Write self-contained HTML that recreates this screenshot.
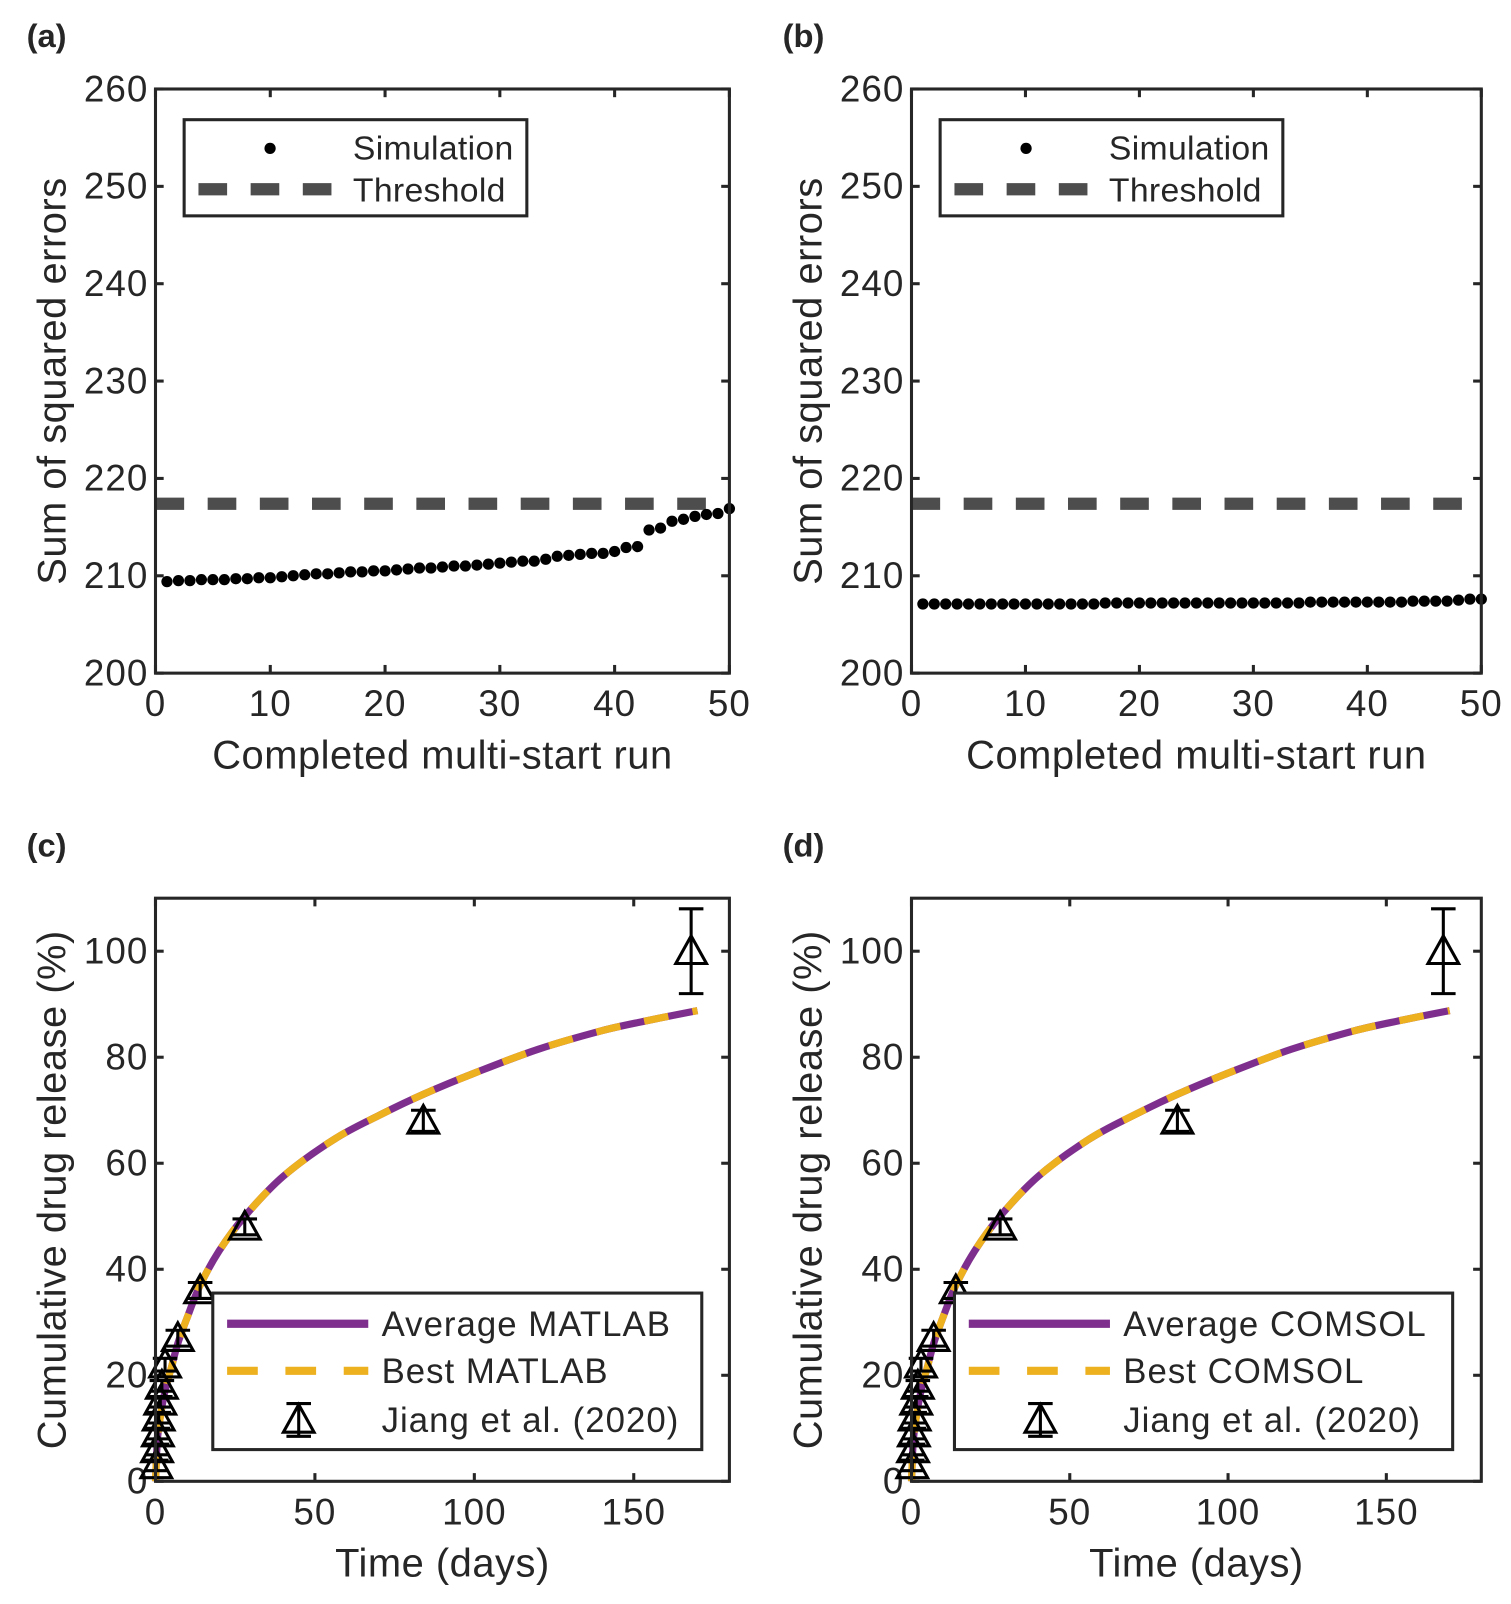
<!DOCTYPE html>
<html><head><meta charset="utf-8"><style>
body{margin:0;background:#fff}
svg text{font-family:"Liberation Sans",Arial,sans-serif;fill:#262626}
</style></head><body>
<svg width="1511" height="1599" viewBox="0 0 1511 1599" xmlns="http://www.w3.org/2000/svg"><g id="s" transform="scale(1.023)"></g></svg>
<script>
const runsA=[209.4,209.5,209.5,209.6,209.6,209.6,209.7,209.7,209.8,209.8,209.9,210.0,210.1,210.2,210.2,210.3,210.4,210.4,210.5,210.5,210.6,210.7,210.8,210.8,210.9,211.0,211.0,211.1,211.2,211.3,211.4,211.5,211.5,211.7,212.0,212.1,212.2,212.3,212.3,212.5,212.9,213.0,214.7,214.9,215.6,215.8,216.1,216.3,216.4,216.9];
const runsB=[207.1,207.1,207.1,207.1,207.1,207.1,207.1,207.1,207.1,207.1,207.1,207.1,207.1,207.1,207.1,207.1,207.2,207.2,207.2,207.2,207.2,207.2,207.2,207.2,207.2,207.2,207.2,207.2,207.2,207.2,207.2,207.2,207.2,207.2,207.3,207.3,207.3,207.3,207.3,207.3,207.3,207.3,207.3,207.4,207.4,207.4,207.4,207.5,207.6,207.6];
const threshold=217.4;
const curveT=[0,0.5,1,2,3,4,5,7,10,14,20,28,40,56,70,84,100,120,140,155,170];
const curveY=[0,7,10,14,17,19.5,21.5,26,31,37,43.5,50,57.5,64.5,69,73,77,81.5,85,87,88.8];
const expT=[0.25,0.5,0.75,1,1.5,2,3,7,14,28,84,168];
const expY=[3,6,9,12,15,18,22,27,36,48,68,100];
const expErr=[1,1,1,1,1,1,1.2,1.5,1.5,1.5,2,8];
const S=document.getElementById('s');
const NS='http://www.w3.org/2000/svg';
function el(t,a,p){const e=document.createElementNS(NS,t);for(const k in a)e.setAttribute(k,a[k]);(p||S).appendChild(e);return e;}
function txt(x,y,s,size,anchor,p,rot,ls){const e=el('text',{x:x,y:y,'font-size':size,'text-anchor':anchor||'middle'},p);if(rot)e.setAttribute('transform',rot);if(ls)e.setAttribute('letter-spacing',ls);e.textContent=s;return e;}
function smooth(pts){let d='M'+pts[0][0].toFixed(1)+' '+pts[0][1].toFixed(1);
 for(let i=0;i<pts.length-1;i++){const p0=pts[i-1]||pts[i],p1=pts[i],p2=pts[i+1],p3=pts[i+2]||p2;
  const c1=[p1[0]+(p2[0]-p0[0])/6,p1[1]+(p2[1]-p0[1])/6],c2=[p2[0]-(p3[0]-p1[0])/6,p2[1]-(p3[1]-p1[1])/6];
  d+=`C${c1[0].toFixed(1)} ${c1[1].toFixed(1)} ${c2[0].toFixed(1)} ${c2[1].toFixed(1)} ${p2[0].toFixed(1)} ${p2[1].toFixed(1)}`;}
 return d;}
function panel(o){
 const g=el('g',{});
 const X=v=>o.x0+(v-o.xmin)/(o.xmax-o.xmin)*(o.x1-o.x0);
 const Y=v=>o.y1-(v-o.ymin)/(o.ymax-o.ymin)*(o.y1-o.y0);
 o.xt.forEach(v=>{const x=X(v);el('line',{x1:x,x2:x,y1:o.y1,y2:o.y1-8,stroke:'#262626','stroke-width':3},g);el('line',{x1:x,x2:x,y1:o.y0,y2:o.y0+8,stroke:'#262626','stroke-width':3},g);
  const t=txt(x,o.y1+42,String(v),36,'middle',g,null,1);});
 o.yt.forEach(v=>{const y=Y(v);el('line',{x1:o.x0,x2:o.x0+8,y1:y,y2:y,stroke:'#262626','stroke-width':3},g);el('line',{x1:o.x1,x2:o.x1-8,y1:y,y2:y,stroke:'#262626','stroke-width':3},g);
  const t=txt(o.x0-7,y+12,String(v),36,'end',g,null,1);});
 const xl=txt((o.x0+o.x1)/2,o.y1+93,o.xlabel,39,'middle',g,null,0.5);
 const yx=o.x0-88,yy=(o.y0+o.y1)/2;
 const yl=txt(yx,yy,o.ylabel,39,'middle',g,`rotate(-90 ${yx} ${yy})`,0.5);
 const pl=txt(o.x0-126,o.y0-41,o.letter,32,'start',g);pl.setAttribute('font-weight','bold');
 o.draw(g,X,Y);
 el('rect',{x:o.x0,y:o.y0,width:o.x1-o.x0,height:o.y1-o.y0,fill:'none',stroke:'#262626','stroke-width':3},g);
 o.legend(g);
}
function tri(g,x,y){const p=el('path',{d:`M${x} ${y-15}L${x+15} ${y+12}L${x-15} ${y+12}Z`,fill:'none',stroke:'#000','stroke-width':3},g);}
function errbar(g,x,ya,yb){el('path',{d:`M${x} ${ya}V${yb}M${x-12} ${ya}H${x+12}M${x-12} ${yb}H${x+12}`,stroke:'#000','stroke-width':3,fill:'none'},g);}
function topPanel(name,letter,x0,x1,data){
 panel({name:name,letter:letter,x0:x0,x1:x1,y0:87,y1:658,xmin:0,xmax:50,ymin:200,ymax:260,xt:[0,10,20,30,40,50],yt:[200,210,220,230,240,250,260],
 xlabel:'Completed multi-start run',ylabel:'Sum of squared errors',
 draw:(g,X,Y)=>{const th=el('line',{x1:X(0),x2:X(50),y1:Y(threshold),y2:Y(threshold),stroke:'#4d4d4d','stroke-width':12,'stroke-dasharray':'28 23'},g);
  data.forEach((v,i)=>{const c=el('circle',{cx:X(i+1),cy:Y(v),r:5.5,fill:'#000'},g);});},
 legend:g=>{const lg=el('g',{},g);
  el('rect',{x:x0+28,y:117,width:335,height:94,fill:'#fff',stroke:'#262626','stroke-width':3},lg);
  el('circle',{cx:x0+112,cy:145,r:5.5,fill:'#000'},lg);
  el('line',{x1:x0+42,x2:x0+182,y1:185,y2:185,stroke:'#4d4d4d','stroke-width':12,'stroke-dasharray':'28 23'},lg);
  txt(x0+193,156,'Simulation',33,'start',lg,null,0.3);txt(x0+193,197,'Threshold',33,'start',lg,null,0.3);}
 });
}
topPanel('panel-a-sse','(a)',152,713,runsA);
topPanel('panel-b-sse','(b)',891,1448,runsB);
function botPanel(name,letter,x0,x1,tool,lx,lw){
 panel({name:name,letter:letter,x0:x0,x1:x1,y0:878,y1:1448,xmin:0,xmax:180,ymin:0,ymax:110,xt:[0,50,100,150],yt:[0,20,40,60,80,100],
 xlabel:'Time (days)',ylabel:'Cumulative drug release (%)',
 draw:(g,X,Y)=>{const d=smooth(curveT.map((t,i)=>[X(t),Y(curveY[i])]));
  const a=el('path',{d:d,fill:'none',stroke:'#7E2F8E','stroke-width':7,'stroke-linejoin':'round'},g);
  const b=el('path',{d:d,fill:'none',stroke:'#EDB120','stroke-width':7,'stroke-dasharray':'24 24'},g);
  expT.forEach((t,i)=>{errbar(g,X(t),Y(expY[i]+expErr[i]),Y(expY[i]-expErr[i]));tri(g,X(t),Y(expY[i]));});},
 legend:g=>{const lg=el('g',{},g);
  el('rect',{x:lx,y:1264,width:lw,height:153,fill:'#fff',stroke:'#262626','stroke-width':3},lg);
  el('line',{x1:lx+14,x2:lx+152,y1:1294,y2:1294,stroke:'#7E2F8E','stroke-width':8},lg);
  el('line',{x1:lx+14,x2:lx+152,y1:1340,y2:1340,stroke:'#EDB120','stroke-width':8,'stroke-dasharray':'30 27'},lg);
  errbar(lg,lx+84,1372,1404);tri(lg,lx+84,1388);
  txt(lx+165,1306,'Average '+tool,34,'start',lg,null,1);txt(lx+165,1352,'Best '+tool,34,'start',lg,null,1);txt(lx+165,1400,'Jiang et al. (2020)',34,'start',lg,null,1);}
 });
}
botPanel('panel-c-release','(c)',152,713,'MATLAB',208,478);
botPanel('panel-d-release','(d)',891,1448,'COMSOL',933,487);
</script>
</body></html>
